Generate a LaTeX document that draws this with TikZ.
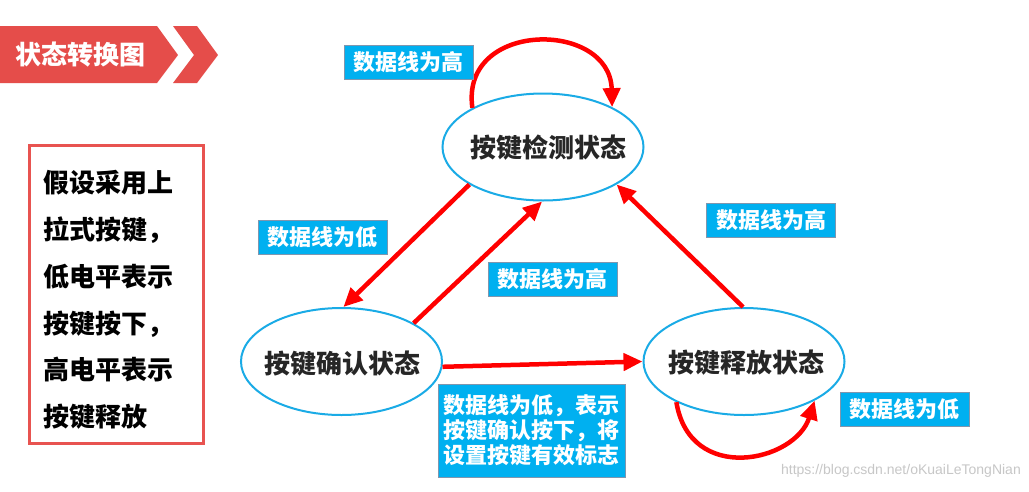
\documentclass[tikz,border=0pt]{standalone}
\usepackage{fontspec}
\usetikzlibrary{shapes.geometric,arrows.meta}
\newfontfamily\cjk{Noto Sans CJK SC}
\newfontfamily\wmfont{Liberation Sans}
\definecolor{stateblue}{HTML}{1AABE6}
\definecolor{lblblue}{HTML}{00B0F0}
\definecolor{lblborder}{HTML}{7F96AE}
\definecolor{bannerred}{HTML}{E54D4A}
\definecolor{boxred}{HTML}{E85350}
\begin{document}
\begin{tikzpicture}[x=1pt,y=-1pt,
  statenode/.style={ellipse, draw=stateblue, line width=2pt, minimum width=201pt, minimum height=107pt, inner sep=0pt},
  statetext/.style={font=\cjk\bfseries\fontsize{26}{30}\selectfont, text=black!85},
  lbl/.style={fill=lblblue, draw=lblborder, line width=1pt, text=white, font=\cjk\bfseries\fontsize{22}{25}\selectfont, minimum width=129pt, minimum height=34pt, inner sep=0pt, align=center},
  arr/.style={draw=red, line width=4.5pt, -{Triangle[length=19pt,width=17pt]}}
]
\useasboundingbox (0,0) rectangle (1029,491);
\fill[white] (0,0) rectangle (1029,491);

% banner
\fill[bannerred] (0,26) -- (157,26) -- (178,55) -- (157,83) -- (0,83) -- cycle;
\fill[bannerred] (173,26) -- (197,26) -- (218,55) -- (197,83) -- (173,83) -- (194,55) -- cycle;
\node[font=\cjk\bfseries\fontsize{26}{30}\selectfont, text=white] (title) at (81,55) {状态转换图};

% left box
\node[draw=boxred, line width=3pt, minimum width=174pt, minimum height=298pt, inner sep=0pt] (assume) at (116,294) {};
\node[anchor=west, align=left, inner sep=0pt, font=\cjk\bfseries\fontsize{26}{46.8}\selectfont] (assumetext) at (43,300)
  {假设采用上\\拉式按键，\\低电平表示\\按键按下，\\高电平表示\\按键释放};

% states
\node[statenode] (detect) at (543,147) {};
\node[statetext] (detectt) at (548,148) {按键检测状态};
\node[statenode] (confirm) at (341.5,361.5) {};
\node[statetext] (confirmt) at (342,364) {按键确认状态};
\node[statenode] (release) at (744,361.5) {};
\node[statetext] (releaset) at (746,363) {按键释放状态};

% arrows
\draw[arr] (detect.151) .. controls (460,20) and (610,20) .. (detect.30);
\draw[arr] (detect.-153) -- (confirm.88);
\draw[arr] (confirm.28) -- (detect.-91);
\draw[arr] (release.91) -- (detect.-27);
\draw[arr] (confirm.-3) -- (release.180);
\draw[arr] (release.-149) .. controls (690,485) and (795,462) .. (release.-29);

% labels
\node[lbl] (l1) at (408.5,62.5) {数据线为高};
\node[lbl] (l2) at (322.5,237.5) {数据线为低};
\node[lbl] (l3) at (552.5,279.5) {数据线为高};
\node[lbl] (l4) at (771,220) {数据线为高};
\node[lbl, minimum width=187pt, minimum height=93pt] (l5) at (531.5,430.5) {数据线为低，表示\\按键确认按下，将\\设置按键有效标志};
\node[lbl] (l6) at (904.5,409) {数据线为低};

% watermark
\node[font=\wmfont\fontsize{14}{16}\selectfont, text=black!22, anchor=east, inner sep=0pt] (wm) at (1021,471) {https://blog.csdn.net/oKuaiLeTongNian};
\end{tikzpicture}
\end{document}
